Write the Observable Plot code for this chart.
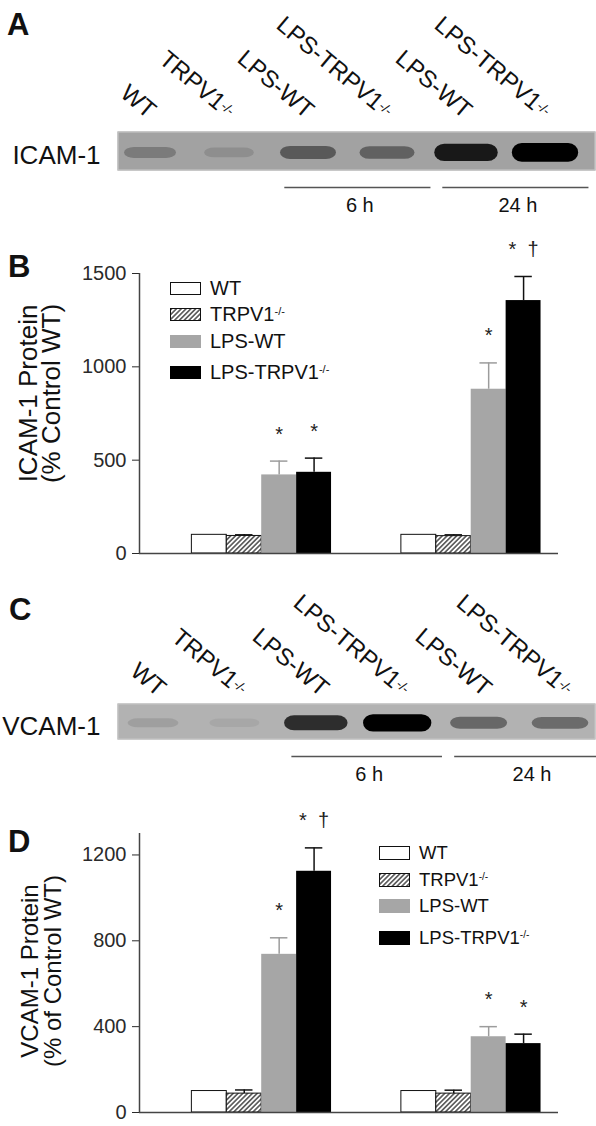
<!DOCTYPE html>
<html>
<head>
<meta charset="utf-8">
<script src="https://cdn.jsdelivr.net/npm/d3@7"></script>
<script src="https://cdn.jsdelivr.net/npm/@observablehq/plot@0.6"></script>
<style>
html, body { margin: 0; padding: 0; background: #fff; }
#fig { position: relative; width: 596px; height: 1126px; overflow: hidden; font-family: "Liberation Sans", Arial, Helvetica, sans-serif; color: #111; }
#fig svg.plot { position: absolute; left: 0; }
.letter { position: absolute; font-weight: bold; font-size: 31px; line-height: 1; z-index: 3; }
.legend { position: absolute; display: flex; flex-direction: column; z-index: 3; }
.legend .row { display: flex; align-items: center; height: 14px; margin-bottom: 12.5px; white-space: nowrap; }
.legend .row:last-child { margin-top: 5px; }
.legend svg { margin-right: 9px; flex: none; }
.legend sup { font-size: 55%; vertical-align: 0.55em; line-height: 0; }
</style>
</head>
<body>
<svg width="0" height="0" style="position:absolute;left:0;top:0" aria-hidden="true">
  <defs>
    <pattern id="hatch" patternUnits="userSpaceOnUse" width="3.4" height="3.4" patternTransform="rotate(45)">
      <rect width="3.4" height="3.4" fill="#fff"></rect>
      <line x1="1.7" y1="0" x2="1.7" y2="3.4" stroke="#111" stroke-width="1.15"></line>
    </pattern>
    <filter id="blur" x="-40%" y="-150%" width="180%" height="400%">
      <feGaussianBlur stdDeviation="4 2.6"></feGaussianBlur>
    </filter>
  </defs>
</svg>
<div id="fig">
  <div class="letter" style="left:7px;top:9px">A</div>
  <div class="letter" style="left:8px;top:251px">B</div>
  <div class="letter" style="left:9px;top:594px">C</div>
  <div class="letter" style="left:8px;top:826px">D</div>
</div>
<script>
// ---------- data ----------
const groups = ["6 h", "24 h"];
const series = ["WT", "TRPV1-/-", "LPS-WT", "LPS-TRPV1-/-"];

// ICAM-1 protein (% control WT), order: 6 h (4 series), 24 h (4 series)
const icamMean = [100, 94, 421, 435, 100, 93, 880, 1355];
const icamErr  = [0, 6, 74, 76, 0, 7, 141, 129];
const icamSig  = ["", "", "*", "*", "", "", "*", "*\u00a0\u00a0†"];
const icamTicks = [0, 500, 1000, 1500];

// VCAM-1 protein (% of control WT)
const vcamMean = [100, 88, 737, 1124, 100, 88, 353, 321];
const vcamErr  = [0, 17, 77, 109, 0, 16, 47, 44];
const vcamSig  = ["", "", "*", "*\u00a0\u00a0†", "", "", "*", "*"];
const vcamTicks = [0, 400, 800, 1200];

// western blot lanes
const lanes    = ["WT", "TRPV1-/-", "LPS-WT", "LPS-TRPV1-/-", "LPS-WT", "LPS-TRPV1-/-"];
const laneTime = ["", "", "6 h", "6 h", "24 h", "24 h"];
const icamBand = [0.24, 0.12, 0.45, 0.4, 0.85, 1.0];   // relative band darkness
const vcamBand = [0.1, 0.06, 0.75, 1.0, 0.42, 0.4];

// ---------- styles ----------
const FONT = "'Liberation Sans', Arial, Helvetica, sans-serif";
const svgStyle = {fontFamily: FONT, fontSize: "20px", color: "#2a2a2a", background: "transparent", overflow: "visible"};
const seriesStyle = {
  "WT":           {fill: "#fff",         stroke: "#111", err: "#111"},
  "TRPV1-/-":     {fill: "url(#hatch)",  stroke: "#111", err: "#111"},
  "LPS-WT":       {fill: "#a6a6a6",      stroke: "none", err: "#9c9c9c"},
  "LPS-TRPV1-/-": {fill: "#000",         stroke: "none", err: "#111"}
};
const fig = document.getElementById("fig");

function place(svg, top) {
  svg.classList.add("plot");
  svg.style.top = top + "px";
  fig.appendChild(svg);
}

// ---------- blot panels ----------
function blotPanel({intensity, name, range, bg, top, height, marginTop, marginBottom, labelDx, labelDy}) {
  const laneRows = lanes.map((lane, i) => ({i, lane, v: intensity[i], time: laneTime[i]}));
  const times = [...new Set(laneTime.filter(t => t))].map(t => {
    const idx = laneRows.filter(d => d.time === t).map(d => d.i);
    return {time: t, from: d3.min(idx), to: d3.max(idx)};
  });
  const svg = Plot.plot({
    width: 596, height, marginTop, marginBottom, marginLeft: 117, marginRight: 1,
    x: {domain: [0, 5], range, axis: null},
    y: {domain: [0, 1], reverse: true, axis: null},
    opacity: {domain: [0, 1], range: [0, 1]},
    style: svgStyle,
    marks: [
      Plot.frame({fill: bg, stroke: "none"}),
      Plot.frame({stroke: "#c4c4c4", strokeWidth: 1.2, inset: 0.5}),
      Plot.rect(laneRows, {
        x1: d => d.i - (0.3 + 0.12 * d.v), x2: d => d.i + (0.3 + 0.12 * d.v),
        y1: d => 0.55 - (0.11 + 0.13 * d.v), y2: d => 0.55 + (0.11 + 0.13 * d.v),
        fill: "#000", fillOpacity: "v", rx: 10, ariaLabel: "band"
      }),
      Plot.text(laneRows, {x: "i", y: 0, text: "lane", rotate: 40, textAnchor: "end", dx: labelDx, dy: labelDy, fontSize: 24, fill: "#111"}),
      Plot.text([name], {frameAnchor: "left", textAnchor: "end", dx: -17, dy: 5, fontSize: 26, fill: "#111"}),
      Plot.ruleY(times, {x1: d => d.from - 0.3, x2: d => d.to + 0.55, y: 1, dy: 17, stroke: "#555", strokeWidth: 1.6}),
      Plot.text(times, {x: d => (d.from + d.to) / 2 + 0.15, y: 1, dy: 35, text: "time", fontSize: 20, fill: "#111"})
    ]
  });
  d3.select(svg).selectAll('g[aria-label="band"]').attr("filter", "url(#blur)");
  place(svg, top);
  return svg;
}

// ---------- bar panels ----------
function barPanel({mean, err, sig, ticks, max, label, labelSize, lineHeight, labelDx, labelDy, top, height, marginTop, marginBottom}) {
  const rows = [];
  groups.forEach((g, gi) => series.forEach((s, si) => {
    const k = gi * series.length + si;
    rows.push({group: g, series: s, slot: gi * 6 + si + 2, mean: mean[k], err: err[k], sig: sig[k]});
  }));
  const marks = [];
  for (const s of series) {
    const st = seriesStyle[s];
    const sub = rows.filter(d => d.series === s && d.err > 0);
    marks.push(Plot.ruleX(sub, {x: "slot", y1: "mean", y2: d => d.mean + d.err, stroke: st.err, strokeWidth: 1.5}));
    marks.push(Plot.ruleY(sub, {x1: d => d.slot - 0.25, x2: d => d.slot + 0.25, y: d => d.mean + d.err, stroke: st.err, strokeWidth: 1.5}));
  }
  for (const s of series) {
    const st = seriesStyle[s];
    marks.push(Plot.rect(rows.filter(d => d.series === s), {
      x1: d => d.slot - 0.5, x2: d => d.slot + 0.5, y1: 0, y2: "mean",
      fill: st.fill, stroke: st.stroke, strokeWidth: 1
    }));
  }
  marks.push(Plot.ruleX([0], {y1: 0, y2: max, stroke: "#444", strokeWidth: 1.5}));
  marks.push(Plot.ruleY([0], {x1: 0, x2: 12, stroke: "#444", strokeWidth: 1.5}));
  marks.push(Plot.text(rows.filter(d => d.sig), {x: "slot", y: d => d.mean + d.err, text: "sig", dy: -27, fontSize: 20, fill: "#222"}));
  marks.push(Plot.text([label], {frameAnchor: "left", textAnchor: "middle", rotate: -90, dx: labelDx, dy: labelDy, fontSize: labelSize, lineHeight, fill: "#111"}));
  const svg = Plot.plot({
    width: 596, height, marginTop, marginBottom, marginLeft: 139, marginRight: 38,
    x: {domain: [0, 12], axis: null},
    y: {domain: [0, max], ticks, tickSize: 7, tickPadding: 6, tickFormat: "d", label: null},
    style: svgStyle,
    marks
  });
  place(svg, top);
  return svg;
}

function legend(left, top, fontSize, swH) {
  const div = document.createElement("div");
  div.className = "legend";
  div.style.left = left + "px";
  div.style.top = top + "px";
  div.style.fontSize = fontSize + "px";
  for (const s of series) {
    const st = seriesStyle[s];
    const row = document.createElement("div");
    row.className = "row";
    const sw = d3.create("svg").attr("width", 31).attr("height", swH);
    sw.append("rect").attr("x", 0.5).attr("y", 0.5).attr("width", 30).attr("height", swH - 1)
      .attr("fill", st.fill).attr("stroke", st.stroke === "none" ? st.fill : st.stroke).attr("stroke-width", 1);
    row.appendChild(sw.node());
    const span = document.createElement("span");
    span.innerHTML = s.endsWith("-/-") ? s.slice(0, -3) + "<sup>-/-</sup>" : s;
    row.appendChild(span);
    div.appendChild(row);
  }
  fig.appendChild(div);
}

blotPanel({intensity: icamBand, name: "ICAM-1", range: [150, 545], bg: "#a2a2a2", top: 0, height: 215, marginTop: 131, marginBottom: 45, labelDx: 2, labelDy: -18});
barPanel({mean: icamMean, err: icamErr, sig: icamSig, ticks: icamTicks, max: 1500,
  label: "ICAM-1 Protein\n(% Control WT)", labelSize: 26, lineHeight: 0.86, labelDx: -98, labelDy: -20,
  top: 240, height: 330, marginTop: 33, marginBottom: 17});
blotPanel({intensity: vcamBand, name: "VCAM-1", range: [153, 560], bg: "#b2b2b2", top: 570, height: 230, marginTop: 133, marginBottom: 61, labelDx: 9, labelDy: -12});
barPanel({mean: vcamMean, err: vcamErr, sig: vcamSig, ticks: vcamTicks, max: 1300,
  label: "VCAM-1 Protein\n(% of Control WT)", labelSize: 24, lineHeight: 0.96, labelDx: -97, labelDy: -2,
  top: 800, height: 326, marginTop: 33, marginBottom: 14});

legend(170, 281, 20, 13);
legend(379, 846, 18.5, 14);

// superscript "-/-" in rotated lane labels
d3.selectAll("#fig svg.plot text").each(function () {
  const t = this.textContent;
  if (t.endsWith("-/-") && this.childElementCount === 0) {
    const s = d3.select(this);
    s.text(t.slice(0, -3));
    s.append("tspan").attr("font-size", "55%").attr("dy", "-0.35em").text("-/-");
  }
});
</script>
</body>
</html>
